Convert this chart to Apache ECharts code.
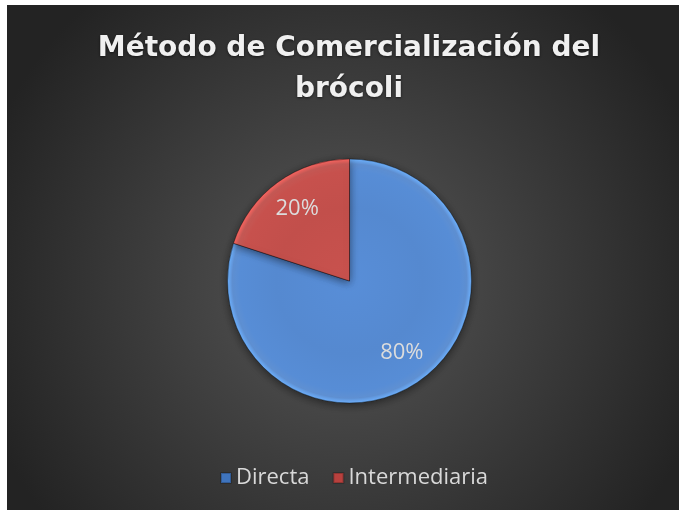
<!DOCTYPE html>
<html>
<head>
<meta charset="utf-8">
<script src="https://cdn.jsdelivr.net/npm/echarts@6/dist/echarts.min.js"></script>
<style>
  html, body { margin: 0; padding: 0; background: #ffffff; }
  #chart { position: absolute; left: 7px; top: 5px; width: 672px; height: 505px; }
</style>
</head>
<body>
<div id="chart"></div>
<script>
var categories = ['Directa', 'Intermediaria'];
var values = [80, 20];
var colors = ['#5589d0', '#c24f4b'];
var legendColors = ['#3f74bd', '#b8413e'];

var chart = echarts.init(document.getElementById('chart'));
var cx = 342.5, cy = 276, rad = 122;

// global radial fill so every slice shares the same bevel
function sliceFill(c) {
    return {
        type: 'radial', x: cx, y: cy, r: rad, global: true,
        colorStops: [
            { offset: 0, color: echarts.color.lift(c, -0.04) },
            { offset: 0.6, color: c },
            { offset: 0.9, color: echarts.color.lift(c, -0.03) },
            { offset: 0.96, color: echarts.color.lift(c, 0.06) },
            { offset: 1, color: echarts.color.lift(c, -0.3) }
        ]
    };
}

var pieData = categories.map(function (name, i) {
    return { name: name, value: values[i], itemStyle: { color: sliceFill(colors[i]) } };
});

var option = {
    backgroundColor: {
        type: 'radial', x: 0.5, y: 0.55, r: 0.75,
        colorStops: [
            { offset: 0, color: '#575757' },
            { offset: 1, color: '#232323' }
        ]
    },
    title: {
        text: 'Método de Comercialización del\nbrócoli',
        left: 337,
        textAlign: 'center',
        top: 18,
        textStyle: {
            fontFamily: 'DejaVu Sans',
            fontWeight: 'bold',
            fontSize: 28,
            lineHeight: 41,
            color: '#f0f0f0',
            textShadowColor: 'rgba(0,0,0,0.6)',
            textShadowBlur: 3,
            textShadowOffsetY: 1
        }
    },
    legend: {
        data: categories.map(function (name, i) {
            return { name: name, itemStyle: { color: legendColors[i] } };
        }),
        bottom: 16,
        left: 208,
        icon: 'rect',
        itemWidth: 10,
        itemHeight: 10,
        itemGap: 23,
        textStyle: { fontFamily: 'Open Sans', fontSize: 22, color: '#d9d9d9' }
    },
    series: [
        {
            type: 'pie',
            center: [cx, cy],
            radius: [0, rad],
            startAngle: 90,
            clockwise: true,
            label: { show: false },
            labelLine: { show: false },
            itemStyle: {
                shadowColor: 'rgba(0,0,0,0.5)',
                shadowBlur: 8,
                shadowOffsetY: 2,
                borderColor: 'rgba(0,0,0,0.2)',
                borderWidth: 1
            },
            emphasis: { disabled: true },
            data: pieData
        },
        {
            // transparent copy only used to place the percentage labels further out
            type: 'pie',
            silent: true,
            center: [cx, cy],
            radius: [0, 172],
            startAngle: 90,
            clockwise: true,
            legendHoverLink: false,
            itemStyle: { color: 'rgba(0,0,0,0)' },
            labelLine: { show: false },
            label: {
                show: true,
                position: 'inside',
                formatter: '{d}%',
                fontFamily: 'Open Sans',
                fontSize: 22,
                color: '#dcdcdc'
            },
            emphasis: { disabled: true },
            data: categories.map(function (name, i) { return { name: name + ' ', value: values[i] }; })
        }
    ]
};
chart.setOption(option);
</script>
</body>
</html>
